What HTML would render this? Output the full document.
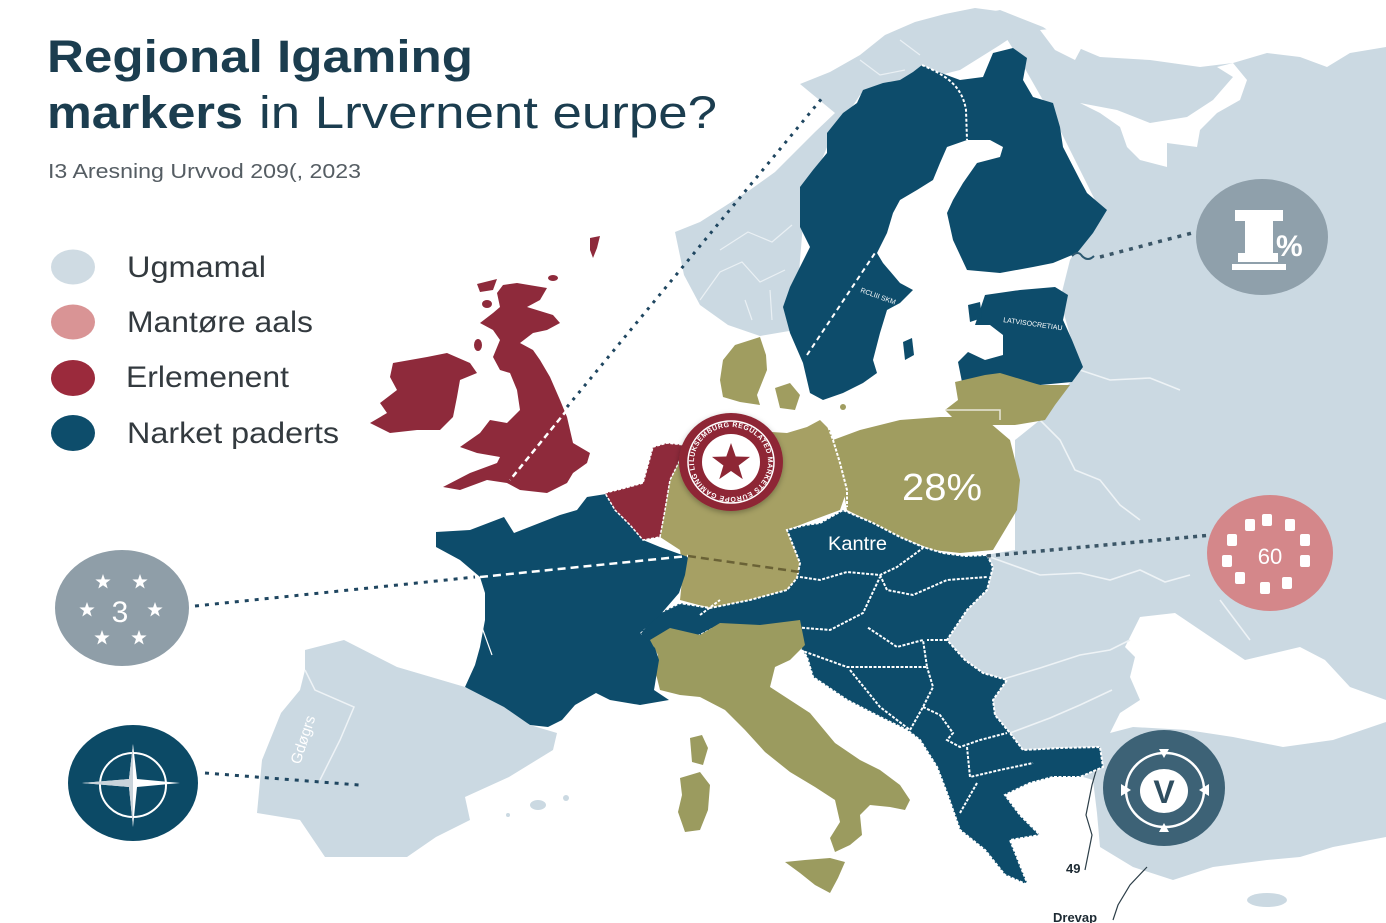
<!DOCTYPE html>
<html>
<head>
<meta charset="utf-8">
<style>
html,body{margin:0;padding:0;background:#fff;}
svg{display:block;}
text{font-family:"Liberation Sans",sans-serif;}
</style>
</head>
<body>
<svg width="1386" height="923" viewBox="0 0 1386 923" xmlns="http://www.w3.org/2000/svg">
<defs>
<filter id="sh" x="-30%" y="-30%" width="160%" height="160%">
<feDropShadow dx="0" dy="2" stdDeviation="3" flood-color="#000" flood-opacity="0.3"/>
</filter>
<path id="ring" d="M731,462 m-37,0 a37,35 0 1,1 74,0 a37,35 0 1,1 -74,0"/>
</defs>
<rect width="1386" height="923" fill="#ffffff"/>

<!-- East / Russia / Turkey light region -->
<polygon fill="#cbd9e2" points="990,12 1000,10 1043,27 1067,43 1100,57 1150,60 1200,67 1233,63 1267,53 1300,57 1327,67 1350,53 1386,47 1386,837 1333,847 1300,857 1267,860 1213,867 1173,880 1133,867 1100,847 1097,813 1093,780 1060,770 1000,760 950,700 940,640 960,600 985,555 1015,550 1015,440 1040,420 1080,370 1060,300 1070,260 1100,210 1060,130 1020,60"/>
<!-- White Sea -->
<polygon fill="#ffffff" points="1080,103 1117,110 1150,123 1187,117 1213,100 1233,77 1217,67 1233,63 1247,80 1240,100 1217,113 1200,130 1197,147 1167,143 1167,167 1140,160 1127,147 1120,127 1100,113"/>
<polygon fill="#ffffff" points="1040,30 1060,28 1083,45 1075,60 1055,50"/>
<!-- Black Sea -->
<polygon fill="#ffffff" points="1125,647 1140,617 1175,613 1215,640 1245,660 1300,647 1325,660 1350,687 1386,700 1386,722 1333,740 1283,747 1233,737 1187,730 1133,727 1110,733 1120,713 1140,700 1130,677 1135,657"/>
<!-- Cyprus -->
<ellipse cx="1267" cy="900" rx="20" ry="7" fill="#cbd9e2"/>
<!-- white lines on light region -->
<g fill="none" stroke="#eef3f6" stroke-width="1.6">
<path d="M990,557 L1040,575 L1080,573 L1110,580 L1140,570 L1165,582 L1190,575"/>
<path d="M1040,420 L1060,440 L1075,470 L1100,480 L1120,505 L1140,520"/>
<path d="M1000,680 L1040,668 L1080,655 L1110,650 L1130,640"/>
<path d="M1010,733 L1050,718 L1080,705 L1112,690"/>
<path d="M1080,370 L1110,380 L1150,378 L1180,390"/>
<path d="M1220,600 L1235,620 L1250,640"/>
</g>
<path d="M1100,757 L1092,785 L1086,815 L1092,835 L1085,870 M1147,867 L1130,885 L1118,905 L1113,920" fill="none" stroke="#2c3e48" stroke-width="1.2"/>

<!-- Norway -->
<polygon fill="#cbd9e2" points="675,232 700,222 722,208 750,190 775,172 795,152 815,132 835,113 800,84 830,72 860,55 885,35 915,22 945,14 975,8 1005,12 1030,25 1000,45 960,70 900,85 860,95 830,140 805,200 800,260 795,330 760,336 728,325 700,305 684,275"/>
<g fill="none" stroke="#eaf0f4" stroke-width="1.2">
<path d="M700,300 L720,272 L742,262 L760,282 L785,270"/>
<path d="M720,250 L748,232 L772,242 L792,225"/>
<path d="M745,300 L752,320 M770,290 L772,320"/>
<path d="M860,60 L880,75 L905,70 M900,40 L920,55"/>
</g>

<!-- Scandinavia dark -->
<polygon fill="#0d4c6b" points="883,83 900,80 913,72 922,65 933,70 960,80 983,77 993,53 1013,48 1027,58 1023,80 1033,97 1053,103 1060,127 1063,147 1080,180 1087,193 1107,210 1093,233 1077,253 1053,263 1033,267 1000,273 967,270 953,240 947,213 953,200 963,183 977,163 1000,157 1003,147 990,140 967,140 947,147 940,163 933,180 917,190 900,200 893,213 887,233 877,253 883,263 900,283 913,290 900,303 887,310 880,333 873,360 877,373 863,383 843,393 823,400 810,393 803,363 790,333 783,307 790,287 800,267 810,247 800,227 800,187 813,170 827,153 827,133 843,113 857,103 863,90"/>
<path d="M903,342 L912,338 L914,355 L905,360 Z" fill="#0d4c6b"/>
<!-- Baltics dark -->
<polygon fill="#0d4c6b" points="985,295 1020,290 1055,287 1068,295 1063,320 1072,340 1083,367 1072,382 1040,385 1000,376 962,382 958,362 968,352 985,360 1003,355 1003,335 990,325 975,325 980,310"/>
<path d="M968,305 L980,302 L982,318 L970,322 Z" fill="#0d4c6b"/>
<path d="M922,65 C945,75 962,85 966,110 L967,140" fill="none" stroke="#ffffff" stroke-width="2" stroke-dasharray="3 2"/>
<path d="M807,355 L875,253" fill="none" stroke="#ffffff" stroke-width="2" stroke-dasharray="5 4"/>
<text x="860" y="292" font-size="7" fill="#fff" transform="rotate(20 860 292)">RCLIII SKM</text>
<text x="1003" y="322" font-size="7" fill="#fff" transform="rotate(8 1003 322)">LATVISOCRETIAU</text>
<path d="M1072,256 q6,-6 10,0 q6,6 12,0" fill="none" stroke="#2c5870" stroke-width="2"/>

<!-- Lithuania/Latvia olive -->
<polygon fill="#a09d60" points="955,382 985,375 1000,373 1040,385 1070,385 1055,405 1045,420 1015,425 985,425 955,420 945,410 958,400"/>
<path d="M945,410 L1000,410 L1000,420" fill="none" stroke="#e8e6d8" stroke-width="1.5"/>
<!-- Poland -->
<polygon fill="#a09d60" points="833,440 860,430 900,420 940,417 983,417 1010,440 1020,480 1017,510 993,550 960,553 933,550 900,537 847,510 840,470"/>
<!-- Germany -->
<polygon fill="#a6a064" points="685,445 740,430 787,433 807,427 820,420 830,430 840,463 847,490 840,510 813,520 787,530 800,563 797,578 787,590 750,600 710,608 680,600 683,570 680,550 660,537 665,510 670,480 680,460"/>
<path d="M827,423 L833,440 L840,463 L847,490 L847,507" fill="none" stroke="#fff" stroke-width="2" stroke-dasharray="3 1.5"/>
<!-- Denmark -->
<polygon fill="#a09d60" points="723,360 735,345 760,337 766,355 767,370 757,395 760,405 740,402 723,397 720,380"/>
<polygon fill="#a09d60" points="775,388 790,383 800,395 795,410 780,408"/>
<circle cx="843" cy="407" r="3" fill="#a09d60"/>

<!-- Central / Balkans dark -->
<polygon fill="#0d4c6b" stroke="#ffffff" stroke-width="2" stroke-dasharray="3 1.5" points="640,633 655,615 680,603 710,608 750,600 787,590 797,578 800,563 787,530 805,525 820,523 843,510 873,523 900,537 923,547 943,553 965,556 987,555 993,567 987,590 967,610 947,640 965,660 983,673 1007,680 993,700 995,715 1010,733 1023,750 1060,748 1100,747 1103,767 1080,777 1053,777 1030,783 1005,795 1020,815 1040,835 1010,840 1028,885 1005,875 985,850 960,830 947,793 937,767 920,740 907,730 880,717 847,700 813,677 807,657 800,647 760,640 720,625 690,640 660,650 645,645"/>
<g fill="none" stroke="#ffffff" stroke-width="2" stroke-dasharray="3 1.5">
<path d="M800,577 L820,580 L847,572 L880,575 L897,567 L923,548"/>
<path d="M880,575 L887,590 L913,595 L947,580 L987,577"/>
<path d="M793,627 L830,630 L863,613 L880,577"/>
<path d="M800,650 L847,667 L890,667 L927,667 L923,640 L897,647 L867,627"/>
<path d="M850,670 L880,707 L910,730 L923,707 L933,687 L927,667"/>
<path d="M923,707 L940,715 L953,733 L947,740 L960,747 L980,740 L1007,733"/>
<path d="M967,747 L970,777 L1000,770 L1033,763"/>
<path d="M977,783 L960,813"/>
<path d="M947,640 L927,640"/>
<path d="M700,615 L720,600"/>
</g>
<!-- Switzerland/Austria jagged edge -->
<path d="M660,640 L672,655 L685,642 L700,652 L715,640" fill="none" stroke="#fff" stroke-width="1.5"/>

<!-- Italy -->
<polygon fill="#9b9b5f" points="650,640 670,628 700,635 720,623 760,625 800,620 805,645 790,660 775,667 770,687 790,700 810,713 835,743 860,760 880,770 900,785 910,800 905,810 890,807 870,805 860,815 862,835 850,845 835,852 830,838 840,822 835,800 815,787 790,772 765,752 745,730 725,710 700,697 680,695 660,690 655,670 658,655"/>
<polygon fill="#9b9b5f" points="785,862 805,860 830,858 845,862 838,878 830,893 815,885 800,873"/>
<polygon fill="#9b9b5f" points="680,778 700,772 710,785 708,810 700,830 685,832 678,812 682,795"/>
<polygon fill="#9b9b5f" points="690,738 702,735 708,748 703,765 692,762"/>

<!-- France -->
<polygon fill="#0d4c6b" points="436,532 470,530 504,517 514,533 560,515 577,510 587,497 606,494 615,510 630,525 643,540 660,547 688,557 685,575 679,593 660,615 640,633 655,648 659,660 654,690 669,700 640,705 610,700 596,693 575,705 562,720 548,727 530,725 509,713 485,700 465,687 475,665 480,647 485,620 485,593 480,577 460,560 436,547"/>
<path d="M480,622 L492,655" stroke="#fff" stroke-width="1.2"/>

<!-- Spain/Portugal -->
<polygon fill="#cbd9e2" points="305,650 344,640 397,667 465,687 504,707 530,725 557,733 553,750 509,777 465,797 470,820 436,837 407,857 325,857 300,820 257,813 262,760 281,713 300,690 305,670"/>
<path d="M305,670 L315,690 L354,707 L340,740 L320,780" fill="none" stroke="#eef3f6" stroke-width="1.5"/>
<text x="300" y="765" font-size="15" fill="#fff" transform="rotate(-72 300 765)">Gdøgrs</text>
<ellipse cx="538" cy="805" rx="8" ry="5" fill="#cbd9e2"/>
<ellipse cx="566" cy="798" rx="3" ry="3" fill="#cbd9e2"/>
<ellipse cx="508" cy="815" rx="2" ry="2" fill="#cbd9e2"/>

<!-- Benelux -->
<polygon fill="#8e2a3b" stroke="#fff" stroke-width="1.5" stroke-dasharray="3 1.5" points="605,493 625,488 643,483 653,447 667,443 685,445 680,460 670,480 665,510 660,537 643,540 630,525 615,510"/>

<!-- UK -->
<polygon fill="#8e2a3b" points="503,285 517,283 547,288 540,300 527,307 553,315 560,323 547,330 533,333 520,343 533,350 540,360 550,377 560,400 567,417 573,443 590,453 587,463 573,473 567,483 547,493 520,490 507,483 487,480 460,490 443,487 470,473 497,463 500,457 477,453 460,447 480,433 490,420 507,423 520,410 517,390 510,373 500,370 493,357 500,340 493,330 480,323 493,313 500,307 497,293"/>
<polygon fill="#8e2a3b" points="393,363 427,357 447,353 470,363 477,373 460,380 457,397 453,417 440,430 417,430 390,433 370,423 387,413 380,403 397,390 390,377"/>
<polygon fill="#8e2a3b" points="477,284 497,279 493,290 480,292"/>
<ellipse cx="487" cy="304" rx="5" ry="4" fill="#8e2a3b"/>
<ellipse cx="553" cy="278" rx="5" ry="3" fill="#8e2a3b"/>
<polygon fill="#8e2a3b" points="590,238 600,236 597,248 593,258 590,250"/>
<ellipse cx="478" cy="345" rx="4" ry="6" fill="#8e2a3b"/>

<!-- Dashed connector lines -->
<path d="M567,407 L823,97" stroke="#1f4660" stroke-width="3" stroke-dasharray="3 6" fill="none"/>
<path d="M567,410 L510,480" stroke="#ffffff" stroke-width="2.5" stroke-dasharray="6 4" fill="none"/>
<path d="M195,606 L475,577" stroke="#1f4660" stroke-width="3" stroke-dasharray="4 6" fill="none"/>
<path d="M480,577 L688,556" stroke="#ffffff" stroke-width="2.5" stroke-dasharray="8 5" fill="none"/>
<path d="M688,556 L800,572" stroke="#6a6236" stroke-width="2.5" stroke-dasharray="8 5" fill="none"/>
<path d="M205,773 L359,785" stroke="#1f4660" stroke-width="3" stroke-dasharray="4 6" fill="none"/>
<path d="M1100,257 L1192,233" stroke="#3b5667" stroke-width="3.5" stroke-dasharray="4 6" fill="none"/>
<path d="M987,556 L1212,535" stroke="#3b5667" stroke-width="3.5" stroke-dasharray="4 5" fill="none"/>

<!-- Map labels -->
<text x="902" y="500" font-size="38" fill="#ffffff" textLength="80" lengthAdjust="spacingAndGlyphs">28%</text>
<text x="828" y="550" font-size="19" fill="#ffffff" textLength="59" lengthAdjust="spacingAndGlyphs">Kantre</text>
<text x="1066" y="873" font-size="13" font-weight="bold" fill="#1d2a33">49</text>
<text x="1053" y="922" font-size="13" font-weight="bold" fill="#1d2a33">Drevap</text>

<!-- Badge -->
<g filter="url(#sh)">
<ellipse cx="731" cy="462" rx="52" ry="49" fill="#8e2735"/>
</g>
<ellipse cx="731" cy="462" rx="43" ry="41" fill="none" stroke="#ffffff" stroke-width="1.5"/>
<text font-size="7" fill="#ffffff" font-weight="bold" letter-spacing="0.5"><textPath href="#ring">LUKSEMBURG REGULATED MARKETS EUROPE GAMING LICENSE BOARD</textPath></text>
<ellipse cx="731" cy="462" rx="29" ry="28" fill="#ffffff"/>
<path transform="translate(731,463) scale(2.5)" fill="#8e2735" d="M0,-8 L1.88,-2.59 L7.61,-2.47 L3.04,0.99 L4.70,6.47 L0,3.2 L-4.70,6.47 L-3.04,0.99 L-7.61,-2.47 L-1.88,-2.59 Z"/>

<!-- I% circle -->
<ellipse cx="1262" cy="237" rx="66" ry="58" fill="#8fa0ab"/>
<g fill="#ffffff">
<rect x="1235" y="210" width="48" height="11"/>
<rect x="1245" y="220" width="28" height="34"/>
<rect x="1238" y="253" width="40" height="9"/>
<rect x="1232" y="264" width="54" height="6"/>
</g>
<text x="1276" y="256" font-size="30" font-weight="bold" fill="#ffffff">%</text>

<!-- 60 circle -->
<ellipse cx="1270" cy="553" rx="63" ry="58" fill="#d4878a"/>
<g fill="#ffffff">
<rect x="1245" y="519" width="10" height="12" rx="2"/>
<rect x="1262" y="514" width="10" height="12" rx="2"/>
<rect x="1285" y="519" width="10" height="12" rx="2"/>
<rect x="1227" y="534" width="10" height="12" rx="2"/>
<rect x="1300" y="534" width="10" height="12" rx="2"/>
<rect x="1222" y="555" width="10" height="12" rx="2"/>
<rect x="1300" y="555" width="10" height="12" rx="2"/>
<rect x="1235" y="572" width="10" height="12" rx="2"/>
<rect x="1260" y="582" width="10" height="12" rx="2"/>
<rect x="1282" y="577" width="10" height="12" rx="2"/>
</g>
<text x="1270" y="564" font-size="22" fill="#ffffff" text-anchor="middle">60</text>

<!-- V circle -->
<ellipse cx="1164" cy="788" rx="61" ry="58" fill="#3d6276"/>
<ellipse cx="1165" cy="790" rx="39" ry="37" fill="none" stroke="#ffffff" stroke-width="2.5"/>
<ellipse cx="1164" cy="791" rx="24" ry="22" fill="#ffffff"/>
<text x="1164" y="803" font-size="32" font-weight="bold" fill="#2f4e60" text-anchor="middle" font-family="Liberation Serif, serif">V</text>
<g fill="#ffffff">
<path d="M1159,749 L1169,749 L1164,758 Z"/>
<path d="M1159,832 L1169,832 L1164,823 Z"/>
<path d="M1121,784 L1121,796 L1131,790 Z"/>
<path d="M1209,784 L1209,796 L1199,790 Z"/>
</g>

<!-- 3 stars circle -->
<ellipse cx="122" cy="608" rx="67" ry="58" fill="#8f9ea8"/>
<g fill="#ffffff">
<path transform="translate(103,582)" d="M0,-8 L1.88,-2.59 L7.61,-2.47 L3.04,0.99 L4.70,6.47 L0,3.2 L-4.70,6.47 L-3.04,0.99 L-7.61,-2.47 L-1.88,-2.59 Z"/>
<path transform="translate(140,582)" d="M0,-8 L1.88,-2.59 L7.61,-2.47 L3.04,0.99 L4.70,6.47 L0,3.2 L-4.70,6.47 L-3.04,0.99 L-7.61,-2.47 L-1.88,-2.59 Z"/>
<path transform="translate(87,610)" d="M0,-8 L1.88,-2.59 L7.61,-2.47 L3.04,0.99 L4.70,6.47 L0,3.2 L-4.70,6.47 L-3.04,0.99 L-7.61,-2.47 L-1.88,-2.59 Z"/>
<path transform="translate(155,610)" d="M0,-8 L1.88,-2.59 L7.61,-2.47 L3.04,0.99 L4.70,6.47 L0,3.2 L-4.70,6.47 L-3.04,0.99 L-7.61,-2.47 L-1.88,-2.59 Z"/>
<path transform="translate(102,638)" d="M0,-8 L1.88,-2.59 L7.61,-2.47 L3.04,0.99 L4.70,6.47 L0,3.2 L-4.70,6.47 L-3.04,0.99 L-7.61,-2.47 L-1.88,-2.59 Z"/>
<path transform="translate(139,638)" d="M0,-8 L1.88,-2.59 L7.61,-2.47 L3.04,0.99 L4.70,6.47 L0,3.2 L-4.70,6.47 L-3.04,0.99 L-7.61,-2.47 L-1.88,-2.59 Z"/>
</g>
<text x="120" y="622" font-size="30" fill="#ffffff" text-anchor="middle">3</text>

<!-- Compass circle -->
<ellipse cx="133" cy="783" rx="65" ry="58" fill="#0c4a66"/>
<ellipse cx="133" cy="785" rx="33" ry="32" fill="none" stroke="#ffffff" stroke-width="2"/>
<path d="M133,744 L137,779 L180,783 L137,787 L133,827 L129,787 L82,783 L129,779 Z" fill="#ffffff"/>
<path d="M133,744 L133,827 L129,787 L82,783 L129,779 Z" fill="#c9d3da"/>

<!-- Title -->
<text x="47" y="72" font-size="45" font-weight="bold" fill="#1b3d4f" textLength="426" lengthAdjust="spacingAndGlyphs">Regional Igaming</text>
<text x="47" y="128" font-size="45" font-weight="bold" fill="#1b3d4f" textLength="196" lengthAdjust="spacingAndGlyphs">markers</text>
<text x="259" y="128" font-size="45" fill="#1b3d4f" textLength="458" lengthAdjust="spacingAndGlyphs">in Lrvernent eurpe?</text>
<text x="48" y="178" font-size="20" fill="#555d63" textLength="313" lengthAdjust="spacingAndGlyphs">I3 Aresning Urvvod 209(, 2023</text>

<!-- Legend -->
<ellipse cx="73" cy="267" rx="22" ry="17.5" fill="#cfdbe3"/>
<ellipse cx="73" cy="322" rx="22" ry="17.5" fill="#d99495"/>
<ellipse cx="73" cy="378" rx="22" ry="18" fill="#9b2a3c"/>
<ellipse cx="73" cy="433" rx="22" ry="18" fill="#0d4d6b"/>
<g font-size="30" fill="#333a3f">
<text x="127" y="277" textLength="139" lengthAdjust="spacingAndGlyphs">Ugmamal</text>
<text x="127" y="332" textLength="186" lengthAdjust="spacingAndGlyphs">Mantøre aals</text>
<text x="126" y="387" textLength="163" lengthAdjust="spacingAndGlyphs">Erlemenent</text>
<text x="127" y="443" textLength="212" lengthAdjust="spacingAndGlyphs">Narket paderts</text>
</g>
</svg>
</body>
</html>
